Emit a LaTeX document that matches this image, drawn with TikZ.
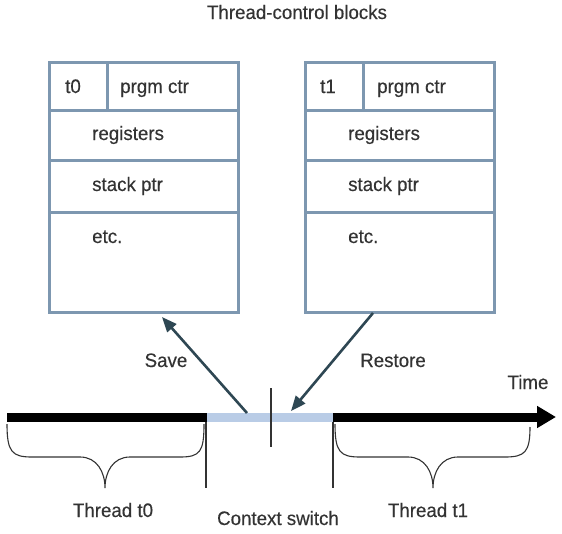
\documentclass[tikz,border=0pt]{standalone}
\usepackage{fontspec}
\setmainfont{Liberation Sans}[FakeBold=0.35, FakeStretch=0.96]
\usetikzlibrary{arrows.meta}
\definecolor{boxblue}{HTML}{7D97B0}
\definecolor{bandblue}{HTML}{B9CCE6}
\definecolor{arrowdark}{HTML}{2E4753}
\definecolor{txt}{HTML}{333333}
\tikzset{
  lbl/.style={inner sep=0pt, text=txt, font=\fontsize{19.5}{21}\selectfont},
  tcb/.style={draw=boxblue, line width=3pt, rectangle, minimum width=189pt, minimum height=250pt, inner sep=0pt},
  divider/.style={draw=boxblue, line width=3pt},
  movearrow/.style={draw=arrowdark, line width=2.6pt, -{Triangle[length=15pt,width=12pt]}},
  thinline/.style={draw=txt, line width=1.1pt},
  bracepath/.style={draw=txt, line width=1.1pt},
  bar/.style={line width=9pt}
}
\begin{document}
\begin{tikzpicture}[x=1pt,y=-1pt]
\useasboundingbox (0,0) rectangle (562,533);
% title
\node[lbl, anchor=base] (title) at (297,19) {Thread-control blocks};
% left TCB
\node[tcb, anchor=north west] (tcb0) at (48,61) {};
\draw[divider] (107,61) -- (107,110);
\draw[divider] (48,110) -- (237,110);
\draw[divider] (48,160) -- (237,160);
\draw[divider] (48,212) -- (237,212);
\node[lbl, anchor=base west] (id0) at (65,93) {t0};
\node[lbl, anchor=base west] (pc0) at (120,93) {prgm ctr};
\node[lbl, anchor=base west] (reg0) at (92,140) {registers};
\node[lbl, anchor=base west] (sp0) at (92,191) {stack ptr};
\node[lbl, anchor=base west] (etc0) at (92,243) {etc.};
% right TCB
\node[tcb, anchor=north west] (tcb1) at (304,61) {};
\draw[divider] (363,61) -- (363,110);
\draw[divider] (304,110) -- (493,110);
\draw[divider] (304,160) -- (493,160);
\draw[divider] (304,212) -- (493,212);
\node[lbl, anchor=base west] (id1) at (320,93) {t1};
\node[lbl, anchor=base west] (pc1) at (377,93) {prgm ctr};
\node[lbl, anchor=base west] (reg1) at (348,140) {registers};
\node[lbl, anchor=base west] (sp1) at (348,191) {stack ptr};
\node[lbl, anchor=base west] (etc1) at (348,243) {etc.};
% timeline
\coordinate (tstart) at (7,417);
\coordinate (csA) at (207,417);
\coordinate (csB) at (333,417);
\coordinate (tend) at (556,417);
\draw[bar, draw=black] (tstart) -- (csA);
\draw[bar, draw=bandblue] (csA) -- (csB);
\draw[bar, draw=black, -{Triangle[length=19pt,width=21pt]}] (csB) -- (tend);
\node[lbl, anchor=base] (time) at (528,389) {Time};
% ticks
\draw[thinline] (271,388) -- (271,447);
\draw[thinline] (206,422) -- (206,488);
\draw[thinline] (333,422) -- (333,488);
% save / restore arrows
\coordinate (saveS) at (247,413);
\coordinate (saveE) at (162,317);
\coordinate (restS) at (373,313);
\coordinate (restE) at (291,411);
\draw[movearrow] (saveS) -- (saveE);
\draw[movearrow] (restS) -- (restE);
\node[lbl, anchor=base] (save) at (166,367) {Save};
\node[lbl, anchor=base] (restore) at (393,367) {Restore};
% braces
\draw[bracepath] (7,424) .. controls (7,452) and (12,457) .. (32,457)
  -- (80,457) .. controls (97,457) and (105,472) .. (105,488)
  .. controls (105,472) and (113,457) .. (130,457)
  -- (180,457) .. controls (200,457) and (204,452) .. (204,424);
\draw[bracepath] (335,424) .. controls (335,452) and (340,457) .. (360,457)
  -- (408,457) .. controls (425,457) and (433,472) .. (433,488)
  .. controls (433,472) and (441,457) .. (458,457)
  -- (505,457) .. controls (525,457) and (530,452) .. (530,427);
\node[lbl, anchor=base] (th0) at (113,517) {Thread t0};
\node[lbl, anchor=base] (cs) at (278,525) {Context switch};
\node[lbl, anchor=base] (th1) at (428,517) {Thread t1};
\end{tikzpicture}
\end{document}
